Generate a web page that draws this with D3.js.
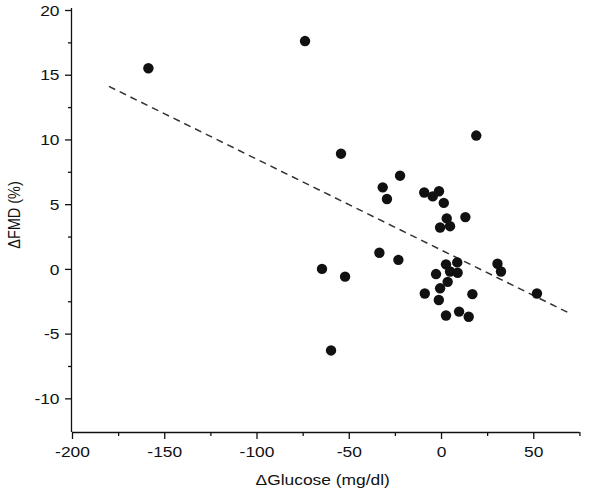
<!DOCTYPE html>
<html>
<head>
<meta charset="utf-8">
<script src="https://cdn.jsdelivr.net/npm/d3@7"></script>
<style>
  html, body { margin: 0; padding: 0; background: #fff; }
  svg { display: block; }
  text { font-family: "Liberation Sans", Arial, Helvetica, sans-serif; fill: #111; }
</style>
</head>
<body>
<svg id="chart" width="600" height="493"></svg>
<script>
// ---- Data ----
const glucose = [-158.6, -73.7, -54.2, 19.1, -22.2, -31.6, -29.3, -9.1, -4.5, -1.1,
                 1.5, 3.1, -0.5, 4.9, 13.2, -33.4, -23.1, -64.5, -52.0, -59.6,
                 2.7, 8.8, -2.7, 4.9, 9.0, 3.6, -0.5, -8.8, -1.2, 17.0,
                 2.7, 9.8, 15.0, 30.6, 32.5, 52.0];
const fmd = [15.5, 17.6, 8.9, 10.3, 7.2, 6.3, 5.4, 5.9, 5.6, 6.0,
             5.1, 3.9, 3.2, 3.3, 4.0, 1.25, 0.7, 0.0, -0.6, -6.3,
             0.35, 0.5, -0.4, -0.2, -0.3, -1.0, -1.5, -1.9, -2.4, -1.95,
             -3.6, -3.3, -3.7, 0.4, -0.2, -1.9];
const fitX = [-180, 70];
const fitY = [14.1, -3.45];
const xTicks = [-200, -150, -100, -50, 0, 50];
const xMinorTicks = [-175, -125, -75, -25, 25, 75];
const yTicks = [-10, -5, 0, 5, 10, 15, 20];
const yMinorTicks = [-7.5, -2.5, 2.5, 7.5, 12.5, 17.5];
const xTitle = "\u0394Glucose (mg/dl)";
const yTitle = "\u0394FMD (%)";

(function () {
// ---- Layout ----
const svg = d3.select("#chart");
const mLeft = 72, mRight = 579.4, mTop = 10, mBottom = 432;
const stretch = 1.2;
const fmt = d => String(d);  // plain hyphen-minus as in the reference

const x = d3.scaleLinear().domain([-200, 75]).range([mLeft, mRight]);
const y = d3.scaleLinear().domain([-12.6, 20]).range([mBottom, mTop]);

// minor ticks
svg.append("g").attr("transform", `translate(0,${mBottom})`)
  .call(d3.axisBottom(x).tickValues(xMinorTicks).tickSize(4).tickFormat(""))
  .call(g => g.select(".domain").remove())
  .call(g => g.selectAll("line").attr("stroke", "#111").attr("stroke-width", 1.3));
svg.append("g").attr("transform", `translate(${mLeft},0)`)
  .call(d3.axisLeft(y).tickValues(yMinorTicks).tickSize(4).tickFormat(""))
  .call(g => g.select(".domain").remove())
  .call(g => g.selectAll("line").attr("stroke", "#111").attr("stroke-width", 1.3));

// major axes
const xAxis = svg.append("g").attr("transform", `translate(0,${mBottom})`)
  .call(d3.axisBottom(x).tickValues(xTicks).tickSize(7).tickSizeOuter(0).tickPadding(0)
        .tickFormat(fmt));
xAxis.select(".domain").attr("stroke", "#111").attr("stroke-width", 1.3)
  .attr("d", `M${mLeft},0.5H${mRight}`);
xAxis.selectAll("line").attr("stroke", "#111").attr("stroke-width", 1.3);
xAxis.selectAll("text")
  .attr("y", 25).attr("dy", null)
  .attr("transform", `scale(${stretch},1)`)
  .style("font-size", "14.5px").attr("fill", "#111");

const yAxis = svg.append("g").attr("transform", `translate(${mLeft},0)`)
  .call(d3.axisLeft(y).tickValues(yTicks).tickSize(7).tickSizeOuter(0)
        .tickFormat(fmt));
yAxis.select(".domain").attr("stroke", "#111").attr("stroke-width", 1.3)
  .attr("d", `M-0.5,${mTop - 2}V${mBottom}`);
yAxis.selectAll("line").attr("stroke", "#111").attr("stroke-width", 1.3);
yAxis.selectAll("text")
  .attr("x", -12.5 / stretch).attr("dy", "0.36em")
  .attr("transform", `scale(${stretch},1)`)
  .style("font-size", "14.5px").attr("fill", "#111");

// axis titles
svg.append("text")
  .attr("transform", `translate(${(mLeft + mRight) / 2 - 3},485) scale(${stretch},1)`)
  .attr("text-anchor", "middle")
  .style("font-size", "14.5px")
  .text(xTitle);
svg.append("text")
  .attr("transform", `translate(20,215) rotate(-90) scale(1,1.15)`)
  .attr("text-anchor", "middle")
  .style("font-size", "14.5px")
  .text(yTitle);

// regression line
svg.append("line")
  .attr("x1", x(fitX[0])).attr("y1", y(fitY[0]))
  .attr("x2", x(fitX[1])).attr("y2", y(fitY[1]))
  .attr("stroke", "#333").attr("stroke-width", 1.5)
  .attr("stroke-dasharray", "7,5");

// points
svg.append("g").selectAll("circle")
  .data(glucose.map((g, i) => ({ gx: g, fy: fmd[i] })))
  .join("circle")
  .attr("cx", d => x(d.gx))
  .attr("cy", d => y(d.fy))
  .attr("r", 5.2)
  .attr("fill", "#111");
})();
</script>
</body>
</html>
